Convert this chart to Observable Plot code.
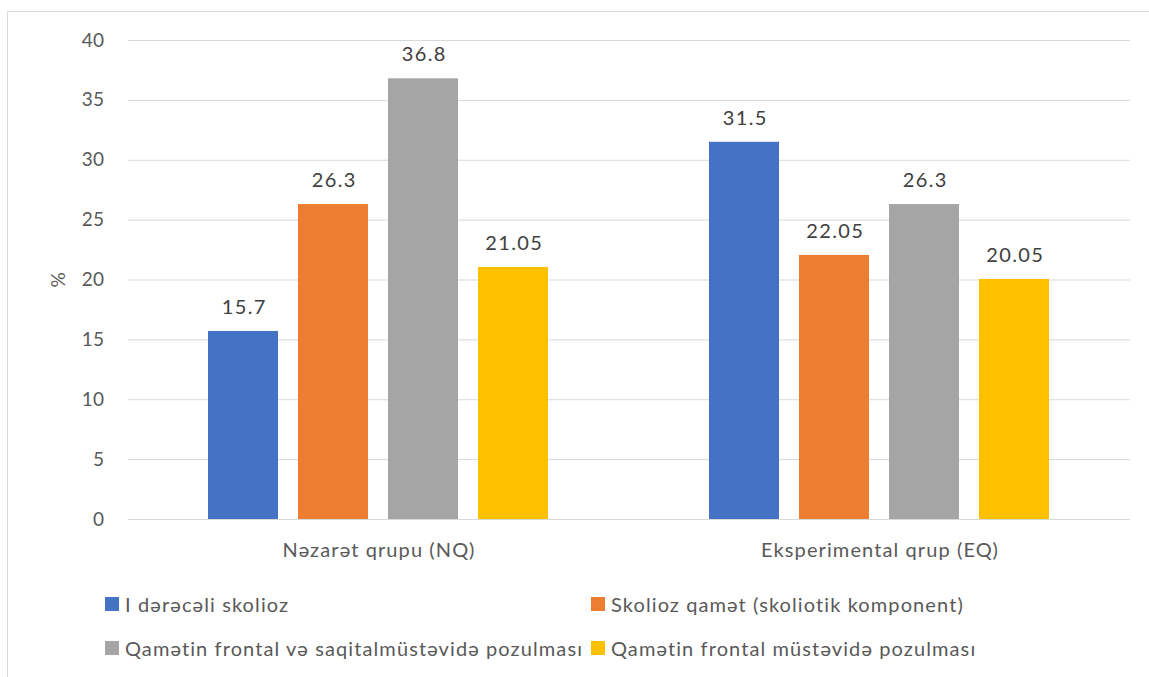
<!DOCTYPE html>
<html>
<head>
<meta charset="utf-8">
<script src="https://cdn.jsdelivr.net/npm/d3@7"></script>
<script src="https://cdn.jsdelivr.net/npm/@observablehq/plot@0.6"></script>
<style>
  html, body { margin: 0; padding: 0; background: #fff; }
  #wrap { position: relative; width: 1149px; height: 677px; overflow: hidden;
          font-family: Lato, "Noto Sans", sans-serif; color: #595959; }
  #frame { position: absolute; left: 7px; top: 11px; right: -2px; bottom: -2px;
           border-top: 1px solid #d9d9d9; border-left: 1px solid #d9d9d9; }
  #chart { position: absolute; left: 0; top: 0; }
  #chart .fx-axis text { letter-spacing: 1.1px; }
  #chart .values text { letter-spacing: 1.4px; }
  #chart .y-axis text { letter-spacing: 0.4px; }
  #legend { position: absolute; left: 105px; top: 591px;
            display: grid; grid-template-columns: 486px auto; row-gap: 18px;
            font-size: 20px; line-height: 26px; letter-spacing: 1.1px; }
  .item { display: flex; align-items: center; white-space: nowrap; }
  .swatch { width: 14px; height: 14px; margin-right: 6px; flex: none; }
</style>
</head>
<body>
<div id="wrap">
  <div id="frame"></div>
  <div id="chart"></div>
  <div id="legend"></div>
</div>
<script>
// Groups along the horizontal axis
const groups = ["Nəzarət qrupu (NQ)", "Eksperimental qrup (EQ)"];

// Series (one bar per series in each group)
const series = [
  "I dərəcəli skolioz",
  "Skolioz qamət (skoliotik komponent)",
  "Qamətin frontal və saqitalmüstəvidə pozulması",
  "Qamətin frontal müstəvidə pozulması"
];
const colors = ["#4472C4", "#ED7D31", "#A5A5A5", "#FFC000"];

// Percentages per series, in group order
const nqValues = [15.7, 26.3, 36.8, 21.05];
const eqValues = [31.5, 22.05, 26.3, 20.05];

const yTicks = [0, 5, 10, 15, 20, 25, 30, 35, 40];

const rows = [
  ...series.map((s, i) => ({group: groups[0], series: s, value: nqValues[i]})),
  ...series.map((s, i) => ({group: groups[1], series: s, value: eqValues[i]}))
];

const chart = Plot.plot({
  width: 1149,
  height: 570,
  marginLeft: 128,
  marginRight: 19,
  marginTop: 40,
  marginBottom: 51,
  style: {fontFamily: "Lato, 'Noto Sans', sans-serif", fontSize: "20px", color: "#595959", background: "transparent"},
  fx: {domain: groups, paddingInner: 0, paddingOuter: 0, label: null},
  x: {domain: series, paddingInner: 0.217, paddingOuter: 0.87, axis: null},
  y: {domain: [0, 40], label: null},
  color: {domain: series, range: colors},
  marks: [
    Plot.gridY(yTicks, {stroke: "#d9d9d9", strokeOpacity: 1}),
    Plot.axisY(yTicks, {tickSize: 0, tickPadding: 24, label: "%", labelAnchor: "center",
      labelArrow: "none", labelOffset: 77, fontSize: 19, fill: "#595959", className: "y-axis"}),
    Plot.axisFx({anchor: "bottom", tickSize: 0, tickPadding: 23, label: null, fontSize: 20,
      fill: "#595959", className: "fx-axis"}),
    Plot.barY(rows, {fx: "group", x: "series", y: "value", fill: "series"}),
    Plot.text(rows, {fx: "group", x: "series", y: "value", text: d => String(d.value),
      dy: -24, dx: 0.7, fontSize: 20, fill: "#404040", className: "values"})
  ]
});
document.getElementById("chart").appendChild(chart);

// Two-column legend below the plot
const legend = d3.select("#legend");
series.forEach((s, i) => {
  const item = legend.append("div").attr("class", "item");
  item.append("span").attr("class", "swatch").style("background", colors[i]);
  item.append("span").text(s);
});
</script>
</body>
</html>
